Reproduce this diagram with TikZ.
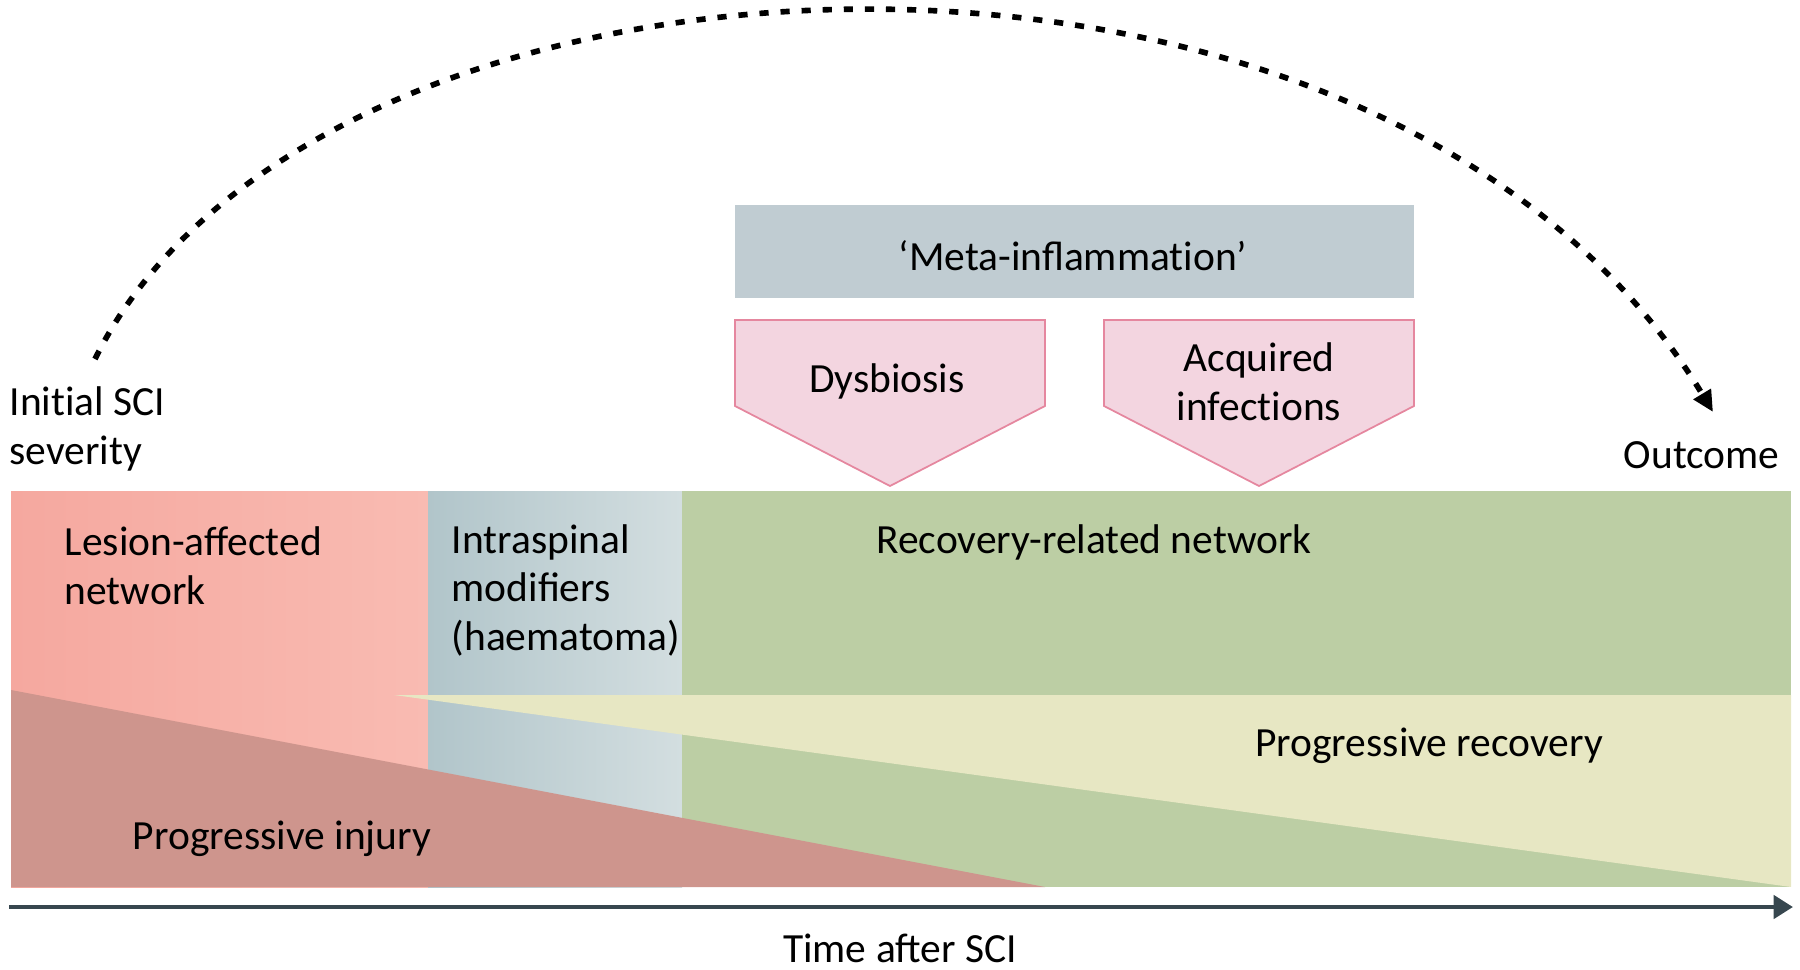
\documentclass[tikz,border=0pt]{standalone}
\usepackage{fontspec}
\setmainfont{Carlito}
\usetikzlibrary{arrows.meta}
\definecolor{lesionL}{HTML}{F5A89F}
\definecolor{lesionR}{HTML}{F9BBB2}
\definecolor{injury}{HTML}{CE958D}
\definecolor{intraL}{HTML}{B1C5CA}
\definecolor{intraR}{HTML}{D3DEE0}
\definecolor{recov}{HTML}{BCCEA4}
\definecolor{recovlight}{HTML}{E7E7C3}
\definecolor{metagrey}{HTML}{C0CCD2}
\definecolor{arrowfill}{HTML}{F3D5E0}
\definecolor{arrowrim}{HTML}{E5879F}
\definecolor{axisgrey}{HTML}{37474F}
\newcommand{\nolig}{\kern0pt }
\tikzset{
	lbl/.style={inner sep=0pt, align=left, font=\fontsize{11.8}{13.8}\selectfont},
	lblc/.style={lbl, align=center},
	downarrow/.style={fill=arrowfill, draw=arrowrim, line width=0.5pt},
	timeaxis/.style={draw=axisgrey, line width=1.4pt, -{Triangle[length=5.5pt, width=6.5pt]}},
	arcline/.style={line width=1.6pt, dash pattern=on 2.6pt off 3.4pt, -{Triangle[length=6pt, width=5.5pt]}}
}

\begin{document}
\begin{tikzpicture}[x=0.01cm, y=-0.01cm]
		\useasboundingbox (0,0) rectangle (1800,970);

		\shade[left color=lesionL, right color=lesionR] (11,491) rectangle (428,887);
		\shade[left color=intraL, right color=intraR] (428,491) rectangle (682,887);
		\fill[recov] (682,491) rectangle (1791,887);
		\fill[recovlight] (394,695) -- (1791,695) -- (1791,887) -- cycle;
		\fill[injury] (11,690) -- (1045,887) -- (11,887) -- cycle;

		\fill[metagrey] (735,205) rectangle (1414,298);
		\draw[downarrow] (735,320) -- (1045,320) -- (1045,406) -- (890,486) -- (735,406) -- cycle;
		\draw[downarrow] (1104,320) -- (1414,320) -- (1414,406) -- (1259,486) -- (1104,406) -- cycle;

		\node[lblc] (meta) at (1073,256) {`Meta-inflammat\nolig ion'};
		\node[lblc] (dysb) at (887,381) {Dysbiosis};
		\node[lblc] (acqinf) at (1259,382) {Acquired\\infect\nolig ions};

		\node[lbl, anchor=west] (initsev) at (9,429) {Init\nolig ial SCI\\severity};
		\node[lbl, anchor=east] (outcome) at (1780,455) {Outcome};

		\node[lbl, anchor=west] (lesion) at (64,566) {Lesion-affected\\network};
		\node[lbl, anchor=west] (intra) at (451,590) {Intraspinal\\modifiers\\(haematoma)};
		\node[lbl] (recnet) at (1094,542) {Recovery-related network};
		\node[lbl] (progrec) at (1429,746) {Progressive recovery};
		\node[lbl] (proginj) at (282,839) {Progressive injury};

		\coordinate (axL) at (9,907);
		\coordinate (axR) at (1793,907);
		\draw[timeaxis] (axL) -- (axR);
		\node[lbl] (timelab) at (900,948) {Time after SCI};

		\coordinate (arcstart) at (95,359);
		\coordinate (arcend) at (1713,412);
		\draw[arcline] (arcstart) .. controls (315,-88) and (1380,-139) .. (arcend);
\end{tikzpicture}
\end{document}
